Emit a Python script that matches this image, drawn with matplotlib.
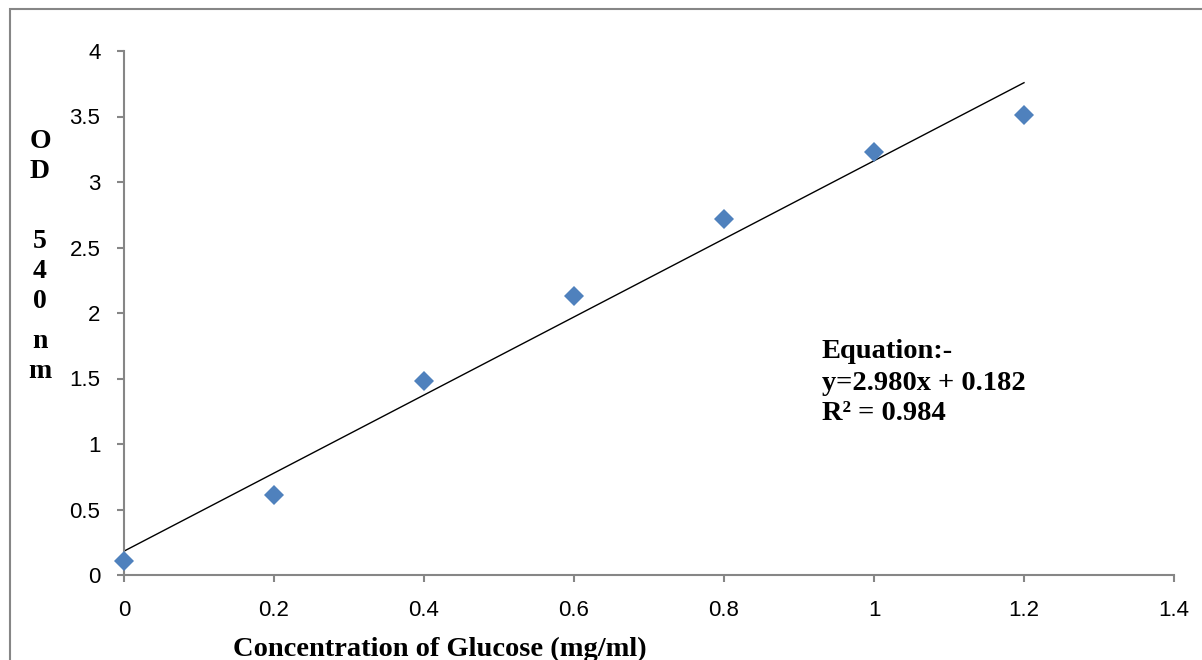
import matplotlib.pyplot as plt
from matplotlib.patches import Rectangle

# glucose standard curve data
conc = [0.0, 0.2, 0.4, 0.6, 0.8, 1.0, 1.2]
od540 = [0.107, 0.61, 1.48, 2.13, 2.72, 3.23, 3.51]

# linear fit reported on the chart
slope = 2.980
intercept = 0.182
r2 = 0.984

x_ticks = [0, 0.2, 0.4, 0.6, 0.8, 1, 1.2, 1.4]
x_tick_labels = ["0", "0.2", "0.4", "0.6", "0.8", "1", "1.2", "1.4"]
y_ticks = [0, 0.5, 1, 1.5, 2, 2.5, 3, 3.5, 4]
y_tick_labels = ["0", "0.5", "1", "1.5", "2", "2.5", "3", "3.5", "4"]

W, H = 1202, 660
fig = plt.figure(figsize=(W / 100, H / 100), dpi=100)
ax = fig.add_axes([124 / W, 1 - 575 / H, (1174 - 124) / W, (575 - 51) / H])

grey = "#868686"
ax.plot(conc, od540, linestyle="none", marker="D", markersize=10.2,
        color="#4F81BD", markeredgewidth=0, zorder=3, clip_on=False)

fit_x = [conc[0], conc[-1]]
fit_y = [slope * v + intercept for v in fit_x]
ax.plot(fit_x, fit_y, color="black", lw=1.0, zorder=2)

ax.set_xlim(0, 1.4)
ax.set_ylim(0, 4)
ax.set_xticks(x_ticks)
ax.set_xticklabels(x_tick_labels)
ax.set_yticks(y_ticks)
ax.set_yticklabels(y_tick_labels)
for s in ["top", "right"]:
    ax.spines[s].set_visible(False)
for s in ["left", "bottom"]:
    ax.spines[s].set_color(grey)
    ax.spines[s].set_linewidth(1.5)
ax.tick_params(axis="both", direction="out", length=5, width=1.5, color=grey,
               labelsize=16, labelcolor="black")
ax.tick_params(axis="x", pad=13)
ax.tick_params(axis="y", pad=12)
for lab in ax.get_xticklabels() + ax.get_yticklabels():
    lab.set_family("Liberation Sans")

# stacked y-axis label
serif = "Liberation Serif"
ylab_chars = ["O", "D", "5", "4", "0", "n", "m"]
ylab_rows = [142, 172, 242, 272, 302, 342, 372]
for ch, row in zip(ylab_chars, ylab_rows):
    fig.text(40 / W, 1 - row / H, ch, ha="center", va="center",
             family=serif, fontweight="bold", fontsize=20)

fig.text(440 / W, 1 - 649 / H, "Concentration of Glucose (mg/ml)",
         ha="center", va="center", family=serif, fontweight="bold", fontsize=20.5)

eq_lines = ["Equation:-", "y=%.3fx + %.3f" % (slope, intercept),
            "R\u00b2 = %.3f" % r2]
for i, line in enumerate(eq_lines):
    fig.text(822 / W, 1 - (352 + 31 * i) / H, line, ha="left", va="center",
             family=serif, fontweight="bold", fontsize=20.5)

# outer chart frame
fig.patches.append(Rectangle((10 / W, -0.1), 1.2, 1 - 9 / H + 0.1,
                             transform=fig.transFigure, fill=False,
                             edgecolor=grey, lw=1.5))

fig.savefig("out.png", dpi=100)
